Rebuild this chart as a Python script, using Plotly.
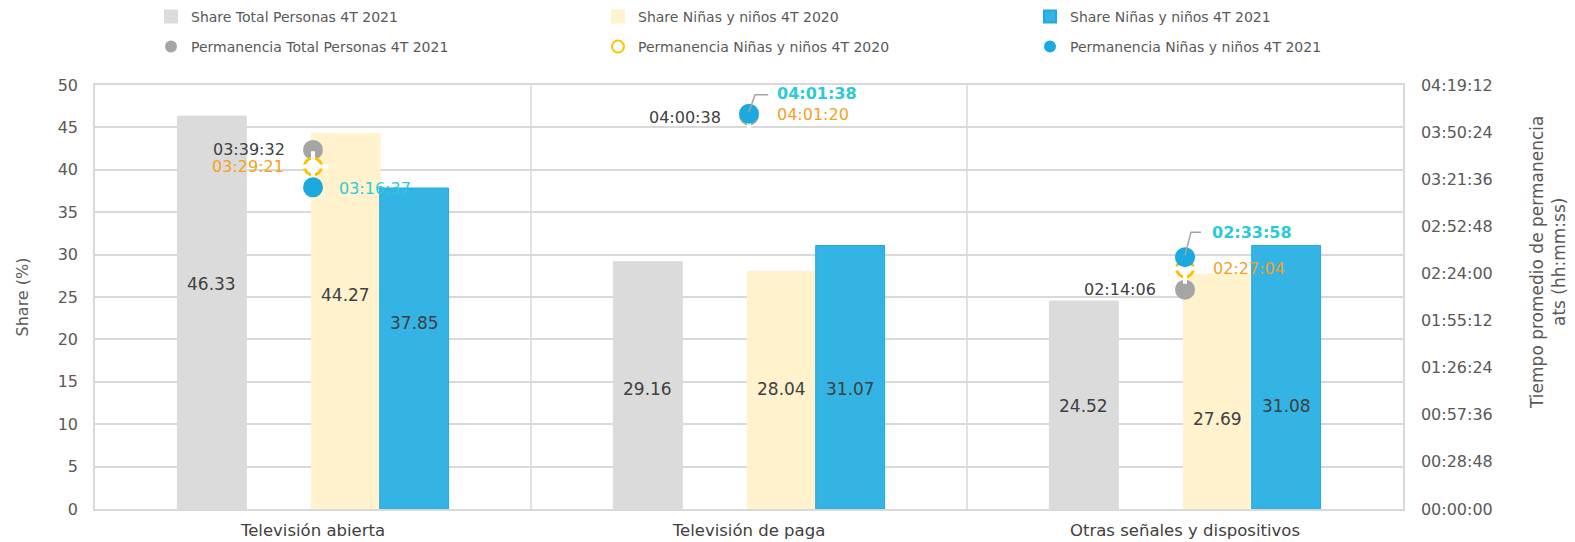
import plotly.graph_objects as go

# ---------------- data ----------------
categories = ["Televisión abierta", "Televisión de paga", "Otras señales y dispositivos"]
share_total_2021 = [46.33, 29.16, 24.52]
share_ninos_2020 = [44.27, 28.04, 27.69]
share_ninos_2021 = [37.85, 31.07, 31.08]
perm_total_2021 = ["03:39:32", "04:00:38", "02:14:06"]
perm_ninos_2020 = ["03:29:21", "04:01:20", "02:27:04"]
perm_ninos_2021 = ["03:16:37", "04:01:38", "02:33:58"]
right_axis_max = "04:19:12"
right_axis_step = "00:28:48"

# ---------------- helpers ----------------
def to_sec(t):
    h, m, s = [int(v) for v in t.split(":")]
    return h * 3600 + m * 60 + s

def to_hms(sec):
    sec = int(round(sec))
    return f"{sec // 3600:02d}:{(sec % 3600) // 60:02d}:{sec % 60:02d}"

xs = list(range(len(categories)))
FONT = "DejaVu Sans"
TXT = "#595959"
DARK = "#404040"
ORANGE = "#F5A01E"
CYAN = "#2BCAD6"

W, H = 1575, 542
PL, PR, PT, PB = 95, 1403, 85, 509  # plot area in pixels

# bar layout (offset/width in category units)
BAR_W = 0.158
bar_specs = [
    ("Share Total Personas 4T 2021", share_total_2021, -0.311, "#DBDBDB", "#DBDBDB", [26.5, 14.2, 12.1]),
    ("Share Niñas y niños 4T 2020", share_ninos_2020, -0.004, "#FFF2CC", "#FFF2CC", [25.2, 14.2, 10.6]),
    ("Share Niñas y niños 4T 2021", share_ninos_2021, 0.153, "#33B4E4", "#23A8DD", [21.9, 14.2, 12.1]),
]
# legend slots: (legend id, text-start x px, row y px)
legend_slots = [("legend", 192, 17), ("legend2", 639, 17), ("legend3", 1071, 17),
                ("legend4", 192, 47), ("legend5", 639, 47), ("legend6", 1071, 47)]

fig = go.Figure()
annotations = []

for k, (name, vals, off, col, lcol, lab_y) in enumerate(bar_specs):
    fig.add_trace(go.Bar(
        x=xs, y=vals, name=name, offset=off, width=BAR_W,
        marker=dict(color=col, line=dict(color=lcol, width=1)),
        legend=legend_slots[k][0], hoverinfo="y+name",
    ))
    for i, v in enumerate(vals):
        annotations.append(dict(
            x=i + off + BAR_W / 2, y=lab_y[i], xref="x", yref="y",
            text=f"{v:.2f}", showarrow=False,
            font=dict(family=FONT, size=17, color=DARK),
        ))

sec_total = [to_sec(t) for t in perm_total_2021]
sec_2020 = [to_sec(t) for t in perm_ninos_2020]
sec_2021 = [to_sec(t) for t in perm_ninos_2021]

fig.add_trace(go.Scatter(
    x=xs, y=sec_total, yaxis="y2", mode="markers", name="Permanencia Total Personas 4T 2021",
    marker=dict(symbol="circle", size=20, color="#A5A5A5"), legend="legend4",
))
fig.add_trace(go.Scatter(
    x=xs, y=sec_2020, yaxis="y2", mode="markers", name="Permanencia Niñas y niños 4T 2020",
    marker=dict(symbol="circle", size=17, color="white", line=dict(color="#FFC000", width=3)),
    legend="legend5",
))
# white cross to break the ring into dashes
fig.add_trace(go.Scatter(
    x=xs, y=sec_2020, yaxis="y2", mode="markers", showlegend=False, hoverinfo="skip",
    marker=dict(symbol="cross-thin-open", size=22, color="white", line=dict(color="white", width=4)),
))
fig.add_trace(go.Scatter(
    x=xs, y=sec_2021, yaxis="y2", mode="markers", name="Permanencia Niñas y niños 4T 2021",
    marker=dict(symbol="circle", size=20, color="#1BA9E0"), legend="legend6",
))

# time labels: per point (xanchor, xshift, yshift, bold)
time_label_specs = [
    (sec_total, perm_total_2021, DARK, [("right", -26, 0, False), ("right", -26, -2, False), ("right", -27, 0, False)]),
    (sec_2020, perm_ninos_2020, ORANGE, [("right", -27, 0, False), ("left", 26, 0, False), ("left", 26, 0, False)]),
    (sec_2021, perm_ninos_2021, CYAN, [("left", 24, -1, False), ("left", 26, 20, True), ("left", 25, 25, True)]),
]
for secs, strs, col, pos in time_label_specs:
    for i, (s, t) in enumerate(zip(secs, strs)):
        anc, xsh, ysh, bold = pos[i]
        annotations.append(dict(
            x=i, y=s, xref="x", yref="y2", text=(f"<b>{t}</b>" if bold else t),
            showarrow=False, xanchor=anc, xshift=xsh, yshift=ysh,
            font=dict(family=FONT, size=16, color=col),
        ))

# leader lines for the raised labels
shapes = []
for i, (dx1, dy1, dx2) in [(1, (6, 19, 19)), (2, (6, 25, 16))]:
    shapes.append(dict(
        type="path", xref="x", yref="y2", xsizemode="pixel", ysizemode="pixel",
        xanchor=i, yanchor=sec_2021[i],
        path=f"M 0 2 L {dx1} {dy1} L {dx2} {dy1}",
        line=dict(color="#A5A5A5", width=1.5), layer="above",
    ))

# vertical separators between categories
for b in [0.5, 1.5]:
    shapes.append(dict(type="line", xref="x", yref="paper", x0=b, x1=b, y0=0, y1=1,
                       line=dict(color="#D9D9D9", width=1.5), layer="below"))

# right axis title as annotation (paper coords from pixel positions)
annotations.append(dict(
    x=(1548 - PL) / (PR - PL), y=(PB - 263) / (PB - PT), xref="paper", yref="paper",
    text="Tiempo promedio de permanencia<br>ats (hh:mm:ss)", showarrow=False, textangle=-90,
    font=dict(family=FONT, size=17, color=TXT), xanchor="center", yanchor="middle",
))

r_max = to_sec(right_axis_max)
r_step = to_sec(right_axis_step)
r_ticks = list(range(0, r_max + 1, r_step))

legends = {}
for lid, tx, ty in legend_slots:
    legends[lid] = dict(
        orientation="h", xref="container", yref="container",
        x=(tx - 41) / W, y=1 - ty / H, xanchor="left", yanchor="middle",
        font=dict(family=FONT, size=14, color=TXT), bgcolor="rgba(0,0,0,0)",
        itemsizing="constant",
    )

fig.update_layout(
    width=W, height=H,
    margin=dict(l=PL, r=W - PR, t=PT, b=H - PB, autoexpand=False),
    plot_bgcolor="white", paper_bgcolor="white",
    barmode="overlay",
    font=dict(family=FONT, size=16, color=TXT),
    xaxis=dict(
        range=[-0.5, 2.5], tickvals=xs, ticktext=categories, showgrid=False,
        showline=True, linecolor="#D9D9D9", linewidth=1.5, mirror=True,
        ticks="", ticklabelstandoff=5, tickfont=dict(size=16.5, color=DARK), zeroline=False,
    ),
    yaxis=dict(
        range=[0, 50], dtick=5, showgrid=True, gridcolor="#D9D9D9", gridwidth=1.5,
        showline=True, linecolor="#D9D9D9", linewidth=1.5, zeroline=False,
        ticks="", ticklabelstandoff=12, tickfont=dict(size=16, color=TXT),
        title=dict(text="Share (%)", font=dict(size=16, color=TXT), standoff=25),
    ),
    yaxis2=dict(
        overlaying="y", side="right", range=[0, r_max], tickvals=r_ticks,
        ticktext=[to_hms(v) for v in r_ticks], showgrid=False, zeroline=False,
        showline=True, linecolor="#D9D9D9", linewidth=1.5,
        ticks="", ticklabelstandoff=13, tickfont=dict(size=16, color=TXT),
    ),
    annotations=annotations,
    shapes=shapes,
    showlegend=True,
    **legends,
)

fig.write_html("out.html", config={"displayModeBar": False},
               post_script="document.body.style.margin='0px';")
